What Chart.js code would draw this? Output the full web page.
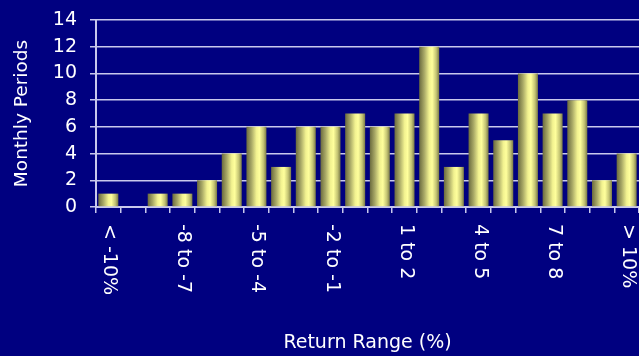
<!DOCTYPE html>
<html lang="en">
  <head>
    <meta charset="UTF-8" />
    <title>Return Range</title>
    <script src="https://cdn.jsdelivr.net/npm/chart.js"></script>
    <style>
      html,
      body {
        margin: 0;
        padding: 0;
        background-color: #000080;
      }
      canvas {
        display: block;
      }
    </style>
  </head>
  <body>
    <canvas id="returnChart" width="639" height="356"></canvas>

    <script>
      const categories = [
        "< -10%", "-10 to -9", "-9 to -8", "-8 to -7", "-7 to -6", "-6 to -5",
        "-5 to -4", "-4 to -3", "-3 to -2", "-2 to -1", "-1 to 0", "0 to 1",
        "1 to 2", "2 to 3", "3 to 4", "4 to 5", "5 to 6", "6 to 7",
        "7 to 8", "8 to 9", "9 to 10", "> 10%",
      ];
      const monthlyPeriods = [1, 0, 1, 1, 2, 4, 6, 3, 6, 6, 7, 6, 7, 12, 3, 7, 5, 10, 7, 8, 2, 4];
      const yTicks = [0, 2, 4, 6, 8, 10, 12, 14];

      const FONT = "'DejaVu Sans', sans-serif";
      const LINE = "#c8c8ec";
      const BAR_PCT = 0.81;

      // shaded bar fill, dark olive at the edges and pale yellow highlight
      function barFill(ctx) {
        const chart = ctx.chart;
        const x = chart.scales.x;
        if (!x || !chart.chartArea) return "#ffff99";
        const c = x.getPixelForValue(ctx.dataIndex);
        const w = (x.width / categories.length) * BAR_PCT;
        const g = chart.ctx.createLinearGradient(c - w / 2, 0, c + w / 2, 0);
        g.addColorStop(0, "#6a6a3e");
        g.addColorStop(0.25, "#a8a866");
        g.addColorStop(0.5, "#f2f290");
        g.addColorStop(0.65, "#ffff9c");
        g.addColorStop(0.85, "#c4c474");
        g.addColorStop(1, "#7a7a48");
        return g;
      }

      // x labels read top-to-bottom, drawn at each tick of the x scale
      const downLabels = {
        id: "downLabels",
        afterDraw(chart) {
          const xs = chart.scales.x;
          const ctx = chart.ctx;
          ctx.save();
          ctx.fillStyle = "#ffffff";
          ctx.font = "19px " + FONT;
          ctx.textAlign = "left";
          ctx.textBaseline = "middle";
          xs.ticks.forEach((t, i) => {
            const label = xs.getLabelForValue(t.value);
            if (i % 3 !== 0) return;
            const px = xs.getPixelForTick(i);
            ctx.save();
            ctx.translate(px + 1, xs.top + 17);
            ctx.rotate(Math.PI / 2);
            ctx.fillText(label, 0, 0);
            ctx.restore();
          });
          ctx.restore();
        },
      };

      new Chart(document.getElementById("returnChart"), {
        type: "bar",
        data: {
          labels: categories,
          datasets: [
            {
              label: "Monthly Periods",
              data: monthlyPeriods,
              backgroundColor: barFill,
              borderWidth: 0,
              barPercentage: BAR_PCT,
              categoryPercentage: 1,
            },
          ],
        },
        options: {
          responsive: false,
          animation: false,
          layout: { padding: { top: 20, right: 0, bottom: 0, left: 0 } },
          plugins: {
            legend: { display: false },
            tooltip: { enabled: false },
          },
          scales: {
            x: {
              grid: {
                drawOnChartArea: false,
                color: LINE,
                tickLength: 6,
                lineWidth: 1.5,
              },
              border: { color: LINE, width: 2 },
              ticks: {
                autoSkip: false,
                minRotation: 90,
                maxRotation: 90,
                color: "rgba(0,0,0,0)",
                font: { family: FONT, size: 19 },
              },
              title: {
                display: true,
                text: "Return Range (%)",
                color: "#ffffff",
                font: { family: FONT, size: 19 },
                padding: { top: 0, bottom: 2 },
              },
              afterFit(scale) {
                scale.height = 149;
                scale.paddingLeft = 0;
                scale.paddingRight = 0;
              },
            },
            y: {
              min: 0,
              max: 14,
              afterBuildTicks(scale) {
                scale.ticks = yTicks.map((v) => ({ value: v }));
              },
              grid: { color: LINE, tickLength: 6, lineWidth: 1.5 },
              border: { color: LINE, width: 2 },
              ticks: {
                color: "#ffffff",
                padding: 13,
                font: { family: FONT, size: 19 },
              },
              title: {
                display: true,
                text: "Monthly Periods",
                color: "#ffffff",
                font: { family: FONT, size: 18.5 },
                padding: { top: 11, bottom: 0 },
              },
              afterFit(scale) {
                scale.width = 96;
                scale.paddingTop = 0;
                scale.paddingBottom = 0;
              },
            },
          },
        },
        plugins: [downLabels],
      });
    </script>
  </body>
</html>
